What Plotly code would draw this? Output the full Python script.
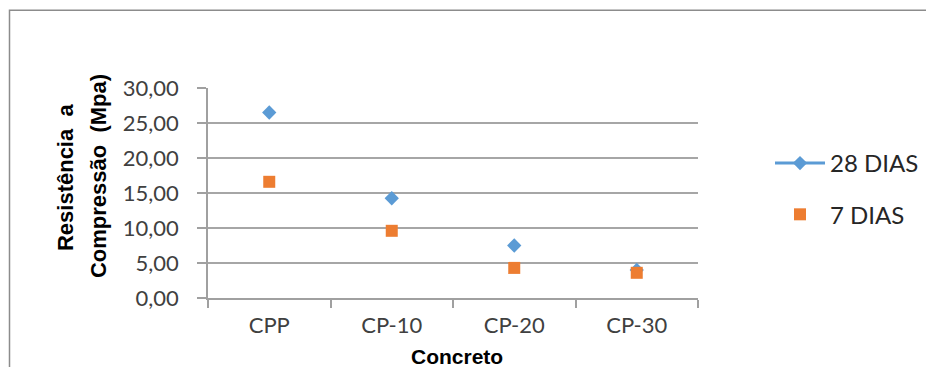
import plotly.graph_objects as go

categories = ["CPP", "CP-10", "CP-20", "CP-30"]
dias28 = [26.5, 14.25, 7.5, 4.0]
dias7 = [16.6, 9.6, 4.3, 3.6]
series_names = ["28 DIAS", "7 DIAS"]
y_title_lines = ["Resistência\u00a0\u00a0a", "Compressão\u00a0\u00a0(Mpa)"]
x_title = "Concreto"

W, H = 926, 367
PL, PR, PT, PB = 208, 698, 87.5, 298.5

def px(x):
    return (x - PL) / (PR - PL)

def py(y):
    return (PB - y) / (PB - PT)

# 28 DIAS: markers separated by gaps so no connecting line is drawn,
# while the legend still shows line + marker
x28, y28 = [], []
for c, v in zip(categories, dias28):
    x28 += [c, c]
    y28 += [v, None]

fig = go.Figure()
fig.add_trace(go.Scatter(
    x=x28, y=y28, name=series_names[0], mode="lines+markers",
    connectgaps=False, legendgroup="a",
    line=dict(color="#5B9BD5", width=3),
    marker=dict(symbol="diamond", size=11, color="#5B9BD5"),
))
fig.add_trace(go.Scatter(
    x=categories, y=dias7, name=series_names[1], mode="markers",
    legendgroup="b",
    marker=dict(symbol="square", size=12, color="#ED7D31"),
))

fig.update_layout(
    width=W, height=H,
    margin=dict(l=PL, r=W - PR, t=PT, b=H - PB, pad=0, autoexpand=False),
    paper_bgcolor="white", plot_bgcolor="white",
    separators=",.",
    font=dict(family="Lato", size=22, color="#404040"),
    showlegend=True,
    legend=dict(
        x=px(770), y=py(189), xanchor="left", yanchor="middle",
        font=dict(family="Lato", size=24, color="#262626"),
        traceorder="grouped", tracegroupgap=17,
        itemwidth=50,
        bgcolor="rgba(0,0,0,0)",
    ),
    xaxis=dict(
        type="category", categoryorder="array", categoryarray=categories,
        range=[-0.5, 3.5], showgrid=False,
        showline=True, linecolor="#a0a0a0", linewidth=1.5,
        ticks="outside", tickson="boundaries", ticklen=8,
        tickcolor="#a0a0a0", tickwidth=1.5,
        ticklabelstandoff=7,
    ),
    yaxis=dict(
        range=[0, 30], dtick=5, tickformat=".2f",
        showgrid=True, gridcolor="#a6a6a6", gridwidth=1.5,
        zeroline=False,
        showline=True, linecolor="#a0a0a0", linewidth=1.5,
        ticks="outside", ticklen=9, tickcolor="#a0a0a0", tickwidth=1.5,
        ticklabelstandoff=14,
    ),
    shapes=[dict(
        type="rect", xref="paper", yref="paper",
        x0=px(9.5), x1=px(940), y0=py(380), y1=py(9.5),
        line=dict(color="#8c8c8c", width=1.5), fillcolor="rgba(0,0,0,0)",
        layer="below",
    )],
    annotations=[
        dict(text="<b>" + x_title + "</b>", xref="paper", yref="paper",
             x=px(457), y=py(357),
             showarrow=False, xanchor="center", yanchor="middle",
             font=dict(family="Liberation Sans", size=21, color="black")),
        dict(text="<b>" + y_title_lines[0] + "</b>", xref="paper", yref="paper",
             x=px(65), y=py(177), textangle=-90, showarrow=False,
             xanchor="center", yanchor="middle",
             font=dict(family="Liberation Sans", size=22, color="black")),
        dict(text="<b>" + y_title_lines[1] + "</b>", xref="paper", yref="paper",
             x=px(98), y=py(176), textangle=-90, showarrow=False,
             xanchor="center", yanchor="middle",
             font=dict(family="Liberation Sans", size=22, color="black")),
    ],
)

fig.write_html("out.html")
